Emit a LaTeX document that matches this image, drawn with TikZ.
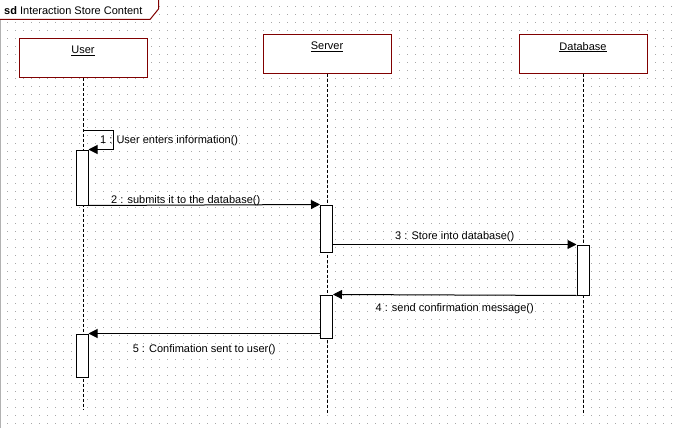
\documentclass[tikz,border=0pt]{standalone}
\usepackage{fontspec}
\setmainfont{Liberation Sans}
\usepackage{xcolor}
\definecolor{umlred}{HTML}{800000}
\definecolor{dotgray}{HTML}{A8A8A8}
\usetikzlibrary{positioning, arrows.meta}
\tikzstyle{message} = [-{Triangle[length=9pt,width=9pt]}, line width=1pt]

\begin{document}
\begin{tikzpicture}[x=1pt,y=-1pt]
        \tikzstyle{every node}=[font=\fontsize{11}{13}\selectfont]
        \tikzstyle{object} = [rectangle, draw=umlred, line width=1pt, fill=white, minimum width=128pt, minimum height=39pt, inner sep=0pt]
        \tikzstyle{activation} = [rectangle, draw=black, line width=1pt, fill=white, minimum width=12pt, inner sep=0pt]
        \tikzstyle{lifeline} = [line width=1pt, dash pattern=on 3pt off 2pt]
        \tikzstyle{msgtext} = [inner sep=0pt]
        \tikzstyle{objlabel} = [anchor=north, yshift=-7.5pt, inner sep=0pt]

        \useasboundingbox (0,0) rectangle (678,428);

        % dotted background
        \foreach \y in {7,15,...,423}
            \draw[dotgray, line width=1pt, dash pattern=on 1pt off 7pt] (7,\y) -- (675,\y);
        \draw[gray!60, line width=1pt] (0.5,0) -- (0.5,428);

        % frame tab
        \fill[white] (0,0) -- (158.5,0) -- (158.5,9) -- (150,19.5) -- (0,19.5) -- cycle;
        \draw[umlred, line width=1pt] (158.5,0) -- (158.5,9) -- (150,19.5) -- (0,19.5);
        \node[anchor=west, inner sep=0pt](title) at (4,10.5) {\textbf{sd} Interaction Store Content};

        % objects
        \node[object, label={[objlabel]north:\underline{User}}](user) at (83,58.5) {};
        \node[object, label={[objlabel]north:\underline{Server}}](server) at (327,54.5) {};
        \node[object, label={[objlabel]north:\underline{Database}}](db) at (583,54.5) {};

        % lifelines
        \coordinate (userend) at (83,410);
        \coordinate (serverend) at (327,414);
        \coordinate (dbend) at (583,414);
        \draw[lifeline] (user.south) -- (userend);
        \draw[lifeline] (server.south) -- (serverend);
        \draw[lifeline] (db.south) -- (dbend);

        % activations
        \node[activation, minimum height=55pt](ua1) at (82,177.5) {};
        \node[activation, minimum height=47pt](sa1) at (326.5,228.5) {};
        \node[activation, minimum height=50pt](da1) at (583,270) {};
        \node[activation, minimum height=43pt](sa2) at (326.5,316.5) {};
        \node[activation, minimum height=43pt](ua2) at (82,355.5) {};

        % messages
        \coordinate (m1) at (83,130);
        \draw[message] (m1) -- ++(30,0) |- (ua1.north east);
        \node[msgtext, anchor=west](msg1) at (100,141) {1 : User enters information()};

        \draw[message] (ua1.south east) -- node[msgtext, above=-1pt, pos=0.42] {2 : submits it to the database()} (sa1.north west);
        \draw[message] (sa1.east |- da1.north) -- node[msgtext, above=2pt] {3 : Store into database()} (da1.north west);
        \draw[message] (da1.south west) -- node[msgtext, below=8pt] {4 : send confirmation message()} (sa2.north east);
        \draw[message] (sa2.west |- ua2.north) -- node[msgtext, below=11pt] {5 : Confimation sent to user()} (ua2.north east);
\end{tikzpicture}
\end{document}
